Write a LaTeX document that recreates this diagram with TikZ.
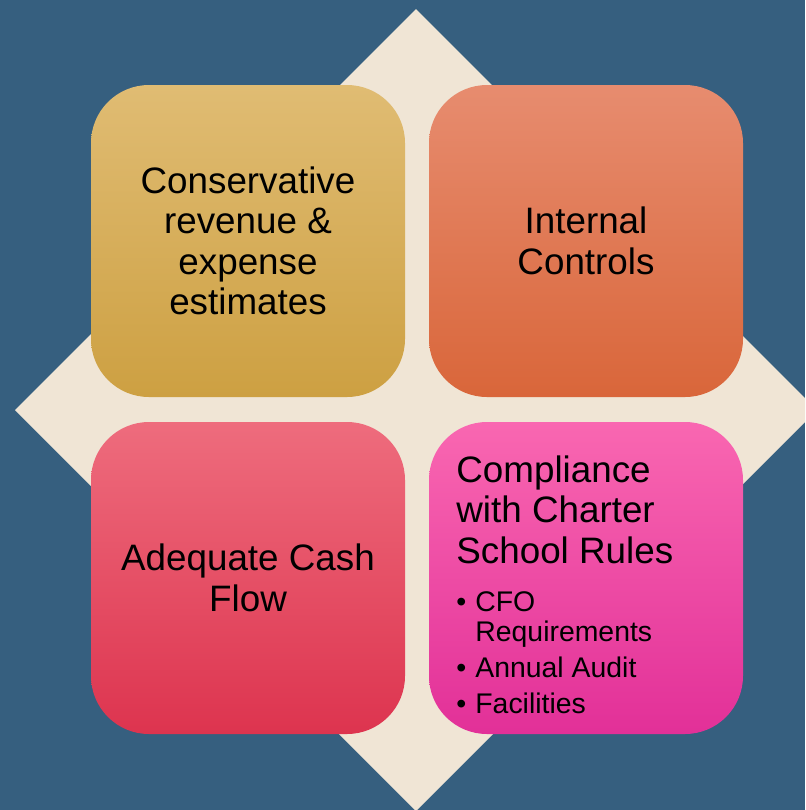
\documentclass[tikz,border=0pt]{standalone}
\usepackage{fontspec}
\setmainfont{Liberation Sans}

\definecolor{slateBlue}{HTML}{365F7F}
\definecolor{sand}{HTML}{F0E5D5}
\definecolor{goldTop}{HTML}{E0BC73}
\definecolor{goldMid}{HTML}{DDB04F}
\definecolor{goldBottom}{HTML}{CDA042}
\definecolor{coralTop}{HTML}{E78C6F}
\definecolor{coralMid}{HTML}{E9784B}
\definecolor{coralBottom}{HTML}{D9663A}
\definecolor{roseTop}{HTML}{EE6C7D}
\definecolor{roseMid}{HTML}{F04A5C}
\definecolor{roseBottom}{HTML}{DD344F}
\definecolor{pinkTop}{HTML}{F967B1}
\definecolor{pinkMid}{HTML}{F640A3}
\definecolor{pinkBottom}{HTML}{E23098}

\tikzset{
    tile/.style={rectangle, rounded corners=29pt, minimum width=157pt, minimum height=156pt, inner sep=0pt},
    tileText/.style={font=\fontsize{18.4}{20.25}\selectfont, align=center, text=black},
    bulletText/.style={font=\fontsize{14.2}{15}\selectfont, align=left, text=black, inner sep=0pt, anchor=north west}
}

\begin{document}
\begin{tikzpicture}[x=0.5pt, y=-0.5pt]

        \def\bulletIndent{9.5pt}

        \useasboundingbox (0,0) rectangle (805,810);
        \clip (0,0) rectangle (805,810);

        % backdrop
        \fill[slateBlue] (0,0) rectangle (805,810);

        % diamond behind the tiles
        \fill[sand] (416,9) -- (817,410) -- (416,811) -- (15,410) -- cycle;

        % top row
        \node[tile, tileText, top color=goldTop, middle color=goldMid, bottom color=goldBottom] (estimates) at (248,241)
            {Conservative\\revenue \&\\expense\\estimates};
        \node[tile, tileText, top color=coralTop, middle color=coralMid, bottom color=coralBottom] (controls) at (586,241)
            {Internal\\Controls};

        % bottom row
        \node[tile, tileText, top color=roseTop, middle color=roseMid, bottom color=roseBottom] (cashFlow) at (248,578)
            {Adequate Cash\\Flow};
        \node[tile, top color=pinkTop, middle color=pinkMid, bottom color=pinkBottom] (compliance) at (586,578) {};

        %compliance heading and its list
        \node[tileText, align=left, inner sep=0pt, anchor=north west] (complianceTitle) at (456,455)
            {Compliance\\with Charter\\School Rules};
        \node[bulletText] (complianceList) at (456,591)
            {\makebox[\bulletIndent][l]{\textbullet}CFO\\
             \hspace*{\bulletIndent}Requirements\\[3pt]
             \makebox[\bulletIndent][l]{\textbullet}Annual Audit\\[3pt]
             \makebox[\bulletIndent][l]{\textbullet}Facilities};

\end{tikzpicture}
\end{document}
